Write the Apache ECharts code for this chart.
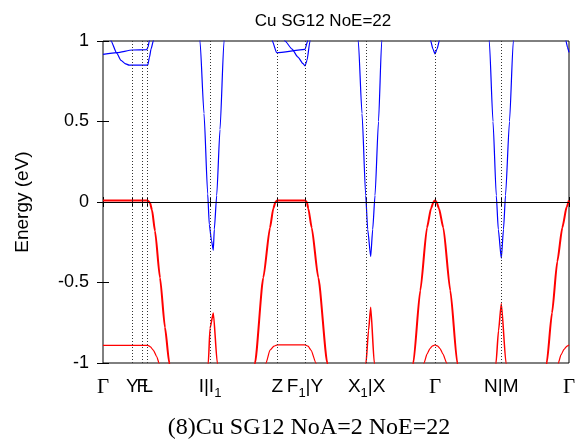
<!DOCTYPE html>
<html><head><meta charset="utf-8">
<script src="https://cdn.jsdelivr.net/npm/echarts@6/dist/echarts.min.js"></script>
<style>html,body{margin:0;padding:0;background:#fff}#c{width:580px;height:440px}</style>
</head><body><div id="c"></div>
<script>
// k-path positions of high-symmetry points and their labels
const kTicks = [0, 29.3, 39.3, 44.7, 107, 174.3, 202, 263.7, 332, 398.3, 466];
const kLabels = ['{g|Γ}', 'Y', 'F', 'L', 'I|I{sub|1}', 'Z', 'F{sub|1}|Y', 'X{sub|1}|X', '{g|Γ}', 'N|M', '{g|Γ}'];
const yTicks = [-1, -0.5, 0, 0.5, 1];

// valence bands (red)
const valTopA = [[0,0.01],[44.7,0.01],[47,-0.005],[49,-0.05],[52,-0.18],[57,-0.47],[62,-0.78],[66.3,-1.0],[67.2,-1.05]];
const valTopB = [[151,-1.06],[152,-1.0],[160.3,-0.47],[167,-0.16],[170.3,-0.04],[172.5,0.0],[174.3,0.01],[202,0.01],[203.8,0.0],[205.3,-0.04],[208.7,-0.16],[215.3,-0.47],[224.3,-1.0],[225.3,-1.06]];
const valTopC = [[309.5,-1.05],[310.3,-1.0],[317.3,-0.55],[324,-0.16],[328,-0.04],[330.5,0.0],[332,0.01],[333.5,0.0],[336,-0.04],[340.3,-0.16],[347.3,-0.55],[354.3,-1.0],[355,-1.05]];
const valTopD = [[443,-1.05],[443.7,-1.0],[449,-0.69],[454.3,-0.37],[459.3,-0.16],[463.7,-0.03],[466,0.01]];
const valLowA = [[0,-0.89],[44.7,-0.89],[47.5,-0.9],[50.3,-0.92],[53.7,-0.96],[56,-1.0],[57,-1.02]];
const valLowB = [[162,-1.02],[163,-1.0],[167,-0.92],[171,-0.895],[174.3,-0.888],[202,-0.888],[205,-0.895],[208,-0.92],[213,-1.0],[214,-1.02]];
const valLowC = [[320,-1.02],[321,-1.0],[324,-0.945],[327,-0.91],[329.5,-0.894],[332,-0.888],[334.5,-0.894],[337,-0.91],[340,-0.945],[343.7,-1.0],[344.7,-1.02]];
const valLowD = [[455,-1.02],[455.3,-1.0],[458,-0.95],[461,-0.915],[464,-0.895],[466,-0.888]];
const valPeakI = [[104.7,-1.03],[105.3,-1.0],[107,-0.785],[110.3,-0.69],[114.3,-1.0],[114.5,-1.02]];
const valPeakX = [[262.8,-1.02],[263,-1.0],[265.5,-0.8],[267.7,-0.654],[271.3,-1.0],[271.5,-1.02]];
const valPeakN = [[392.9,-1.02],[393,-1.0],[395.5,-0.8],[398.3,-0.63],[403,-1.0],[403.2,-1.02]];

// conduction bands (blue)
const conA = [[0,0.917],[14,0.928],[29.3,0.944],[43.7,0.946],[45,0.96],[46.3,1.0],[46.8,1.02]];
const conB = [[7.5,1.03],[8,1.0],[13.7,0.925],[18,0.88],[22,0.86],[26.3,0.85],[44.7,0.85],[46.5,0.9],[48,0.95],[50.3,1.0],[50.8,1.02]];
const conC = [[169,1.03],[169.3,1.0],[173.7,0.927],[202,0.948],[204.7,1.0],[205,1.02]];
const conD = [[180.5,1.02],[182,1.0],[189,0.95],[195,0.9],[200,0.86],[202,0.845],[204,0.88],[207,1.0],[207.3,1.02]];
const conI = [[96.7,1.03],[97,1.0],[101,0.55],[104.7,0.05],[106.3,-0.14],[108.5,-0.24],[110.3,-0.30],[111.3,-0.17],[113.7,0.04],[117,0.45],[121,1.0],[121.3,1.03]];
const conX = [[255,1.03],[255.3,1.0],[259,0.55],[262.7,0.04],[264.7,-0.17],[267.7,-0.34],[269.7,-0.17],[272,0.04],[275.5,0.5],[278.7,1.0],[279,1.03]];
const conG = [[327.4,1.03],[327.7,1.0],[330,0.95],[332,0.92],[334,0.95],[336.3,1.0],[336.6,1.03]];
const conN = [[386,1.03],[386.3,1.0],[390,0.5],[393.3,0.04],[395.3,-0.17],[398.3,-0.35],[400.5,-0.17],[402.5,0.04],[406.5,0.5],[410.3,1.0],[410.6,1.03]];
const conE = [[462.7,1.03],[463,1.0],[464.5,0.96],[466,0.93]];

const RED = '#ff0000', BLUE = '#0000ff';
function band(data, color, width) {
  return { type: 'line', data: data, symbol: 'none', smooth: 0.2, smoothMonotone: 'x',
    lineStyle: { color: color, width: width }, clip: true, silent: true, z: 3 };
}
const series = [
  band(valTopA, RED, 2), band(valTopB, RED, 2), band(valTopC, RED, 2), band(valTopD, RED, 2),
  band(valLowA, RED, 1.2), band(valLowB, RED, 1.2), band(valLowC, RED, 1.2), band(valLowD, RED, 1.2),
  band(valPeakI, RED, 1.5), band(valPeakX, RED, 1.5), band(valPeakN, RED, 1.5),
  band(conA, BLUE, 1.2), band(conB, BLUE, 1.2), band(conC, BLUE, 1.2), band(conD, BLUE, 1.2),
  band(conI, BLUE, 1.2), band(conX, BLUE, 1.2), band(conG, BLUE, 1.2), band(conN, BLUE, 1.2), band(conE, BLUE, 1.2)
];
series.push({
  type: 'line', data: [], symbol: 'none', silent: true,
  markLine: { silent: true, symbol: 'none', label: { show: false }, animation: false,
    data: kTicks.slice(1, -1).map(v => ({ xAxis: v, lineStyle: { type: [1, 2], color: '#333', width: 1 } }))
      .concat([{ yAxis: 0, lineStyle: { type: 'solid', color: '#000', width: 1 } }]) },
  z: 2
});

const chart = echarts.init(document.getElementById('c'), null, { renderer: 'canvas' });
const labelFont = 'Liberation Sans';
chart.setOption({
  animation: false,
  backgroundColor: '#fff',
  grid: { left: 103, right: 11, top: 41, bottom: 77, show: true, borderColor: '#000', borderWidth: 1, backgroundColor: 'transparent' },
  xAxis: [{
    type: 'value', min: 0, max: 466, position: 'bottom',
    axisLine: { show: false }, splitLine: { show: false },
    axisTick: { show: true, inside: true, length: 5, customValues: kTicks, lineStyle: { color: '#000' } },
    axisLabel: { show: true, customValues: kTicks, margin: 11, color: '#000', fontFamily: labelFont, fontSize: 19,
      lineHeight: 26, hideOverlap: false,
      formatter: function (v) { for (let i = 0; i < kTicks.length; i++) if (Math.abs(kTicks[i] - v) < 1e-6) return kLabels[i]; return ''; },
      rich: { g: { fontFamily: 'Liberation Serif', fontSize: 21, lineHeight: 26, color: '#000' },
              sub: { fontFamily: labelFont, fontSize: 13, lineHeight: 13, color: '#000', padding: [13, 0, 0, 0] } } }
  }, {
    type: 'value', min: 0, max: 466, position: 'top',
    axisLine: { show: false }, splitLine: { show: false }, axisLabel: { show: false },
    axisTick: { show: true, inside: true, length: 5, customValues: kTicks, lineStyle: { color: '#000' } }
  }],
  yAxis: [{
    type: 'value', min: -1, max: 1, interval: 0.5, position: 'left',
    axisLine: { show: false }, splitLine: { show: false },
    axisTick: { show: true, inside: true, length: 6, lineStyle: { color: '#000' } },
    axisLabel: { color: '#000', fontFamily: labelFont, fontSize: 18, margin: 14 }
  }, {
    type: 'value', min: -1, max: 1, interval: 0.5, position: 'right',
    axisLine: { show: false }, splitLine: { show: false }, axisLabel: { show: false },
    axisTick: { show: true, inside: true, length: 6, lineStyle: { color: '#000' } }
  }],
  graphic: [
    { type: 'text', x: 323, y: 21, style: { text: 'Cu SG12 NoE=22', font: '17px "Liberation Sans"', fill: '#000', textAlign: 'center', textVerticalAlign: 'middle' } },
    { type: 'text', x: 23, y: 202, rotation: Math.PI / 2, style: { text: 'Energy (eV)', font: '19px "Liberation Sans"', fill: '#000', textAlign: 'center', textVerticalAlign: 'middle' } },
    { type: 'text', x: 309, y: 428, style: { text: '(8)Cu SG12 NoA=2 NoE=22', font: '24px "Liberation Serif"', fill: '#000', textAlign: 'center', textVerticalAlign: 'middle' } }
  ],
  series: series
});
</script></body></html>
